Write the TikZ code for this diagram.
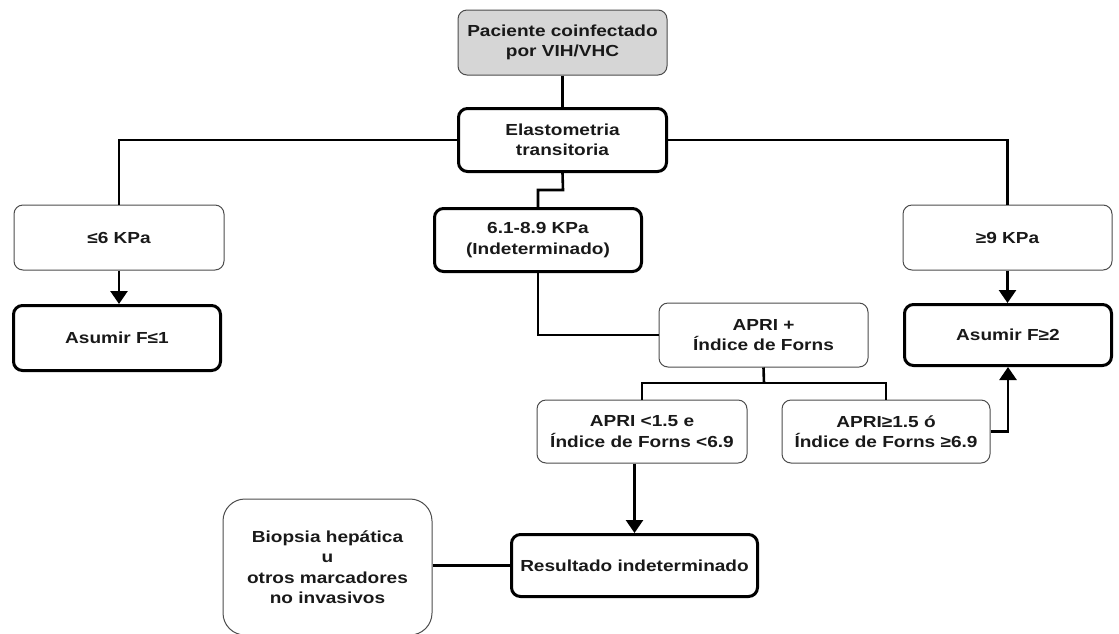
\documentclass[tikz,border=0pt]{standalone}
\usepackage{fontspec}
\setmainfont{Liberation Sans}[FakeStretch=1.19]
\usetikzlibrary{arrows.meta}
\begin{document}
\begin{tikzpicture}[x=1pt,y=-1pt,
  base/.style={rounded corners=9pt,align=center,inner sep=0pt,
    font=\fontsize{16}{20.5}\selectfont\bfseries,text=black!90},
  thinbox/.style={base,draw=black!70,line width=1pt},
  thickbox/.style={base,draw=black,line width=3pt},
  conn/.style={line width=2.6pt,draw=black},
  arr/.style={conn,-{Triangle[length=13pt,width=17pt]}}]
\useasboundingbox (0,0) rectangle (1119,633);
\node[thinbox,fill=black!16,minimum width=209pt,minimum height=65pt] (pac) at (562.5,42.5) {Paciente coinfectado\\por VIH/VHC};
\node[thickbox,minimum width=208pt,minimum height=63pt] (elas) at (562.5,140) {Elastometria\\transitoria};
\node[thinbox,minimum width=210pt,minimum height=65pt] (le6) at (119,237.5) {≤6 KPa};
\node[thickbox,minimum width=207pt,minimum height=65pt] (f1) at (117,338) {Asumir F≤1};
\node[thickbox,minimum width=207pt,minimum height=63pt] (mid) at (538,240) {6.1-8.9 KPa\\(Indeterminado)};
\node[thinbox,minimum width=209pt,minimum height=65pt] (ge9) at (1007.5,237.5) {≥9 KPa};
\node[thickbox,minimum width=207pt,minimum height=61pt] (f2) at (1008,335) {Asumir F≥2};
\node[thinbox,minimum width=209pt,minimum height=64pt] (apri) at (763.5,335) {APRI +\\Índice de Forns};
\node[thinbox,minimum width=210pt,minimum height=63pt] (lo) at (642,431.5) {APRI <1.5 e\\Índice de Forns <6.9};
\node[thinbox,minimum width=208pt,minimum height=63pt] (hi) at (886,431.5) {APRI≥1.5 ó\\Índice de Forns ≥6.9};
\node[thickbox,minimum width=246pt,minimum height=62pt] (res) at (634.5,565.5) {Resultado indeterminado};
\node[thinbox,rounded corners=22pt,minimum width=209pt,minimum height=136pt] (bio) at (327.5,567) {Biopsia hepática\\u\\otros marcadores\\no invasivos};
\coordinate (j1) at (563,190);
\coordinate (j2) at (764,383);
\draw[conn] (pac) -- (elas);
\draw[conn] (elas.west) -| (le6.north);
\draw[conn] (elas.east) -| (ge9.north);
\draw[conn] (elas.south) -- (j1) -| (mid.north);
\draw[conn] (mid.south) |- (apri.west);
\draw[conn] (apri.south) -- (j2);
\draw[conn] (lo.north) |- (j2) -| (hi.north);
\draw[arr] (le6.south) -- (le6.south |- f1.north);
\draw[arr] (ge9.south) -- (ge9.south |- f2.north);
\draw[arr] (hi.east) -| (f2.south);
\draw[arr] (res.north |- lo.south) -- (res.north);
\draw[conn] (bio.east |- res.west) -- (res.west);
\end{tikzpicture}
\end{document}
